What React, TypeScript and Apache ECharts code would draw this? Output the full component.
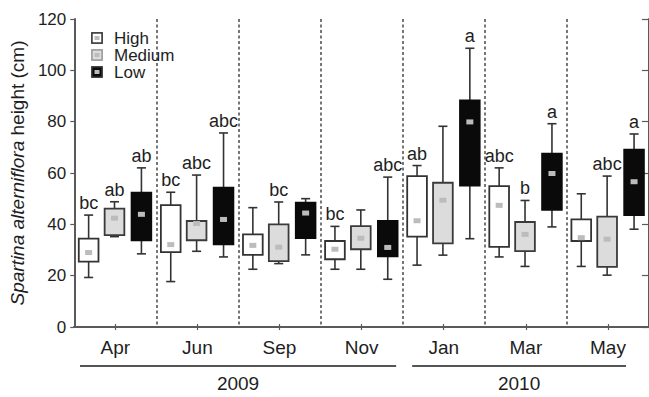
import React, { useEffect, useRef } from 'react';
import * as echarts from 'echarts';

const months = ['Apr', 'Jun', 'Sep', 'Nov', 'Jan', 'Mar', 'May'];
const yearLabels = ['2009', '2010'];
const yearFirstIdx = [0, 4];
const yearLastIdx = [3, 6];
const yTicks = { min: 0, max: 120, interval: 20 };

// [min, q1, median, q3, max]
const highStats = [
  [19.3, 25.5, 29.0, 34.4, 43.6],
  [17.7, 29.2, 32.1, 47.5, 52.5],
  [22.5, 28.1, 31.8, 36.1, 46.5],
  [22.5, 26.4, 30.3, 33.5, 39.2],
  [24.1, 35.2, 41.4, 58.8, 62.9],
  [27.3, 31.2, 47.4, 54.9, 62.0],
  [23.6, 33.5, 34.8, 41.9, 51.9],
];
const mediumStats = [
  [35.2, 35.8, 42.4, 46.1, 48.8],
  [29.5, 33.8, 40.3, 41.3, 59.2],
  [24.7, 25.7, 31.1, 40.0, 48.7],
  [22.5, 30.3, 34.6, 39.3, 45.6],
  [28.0, 32.6, 49.4, 56.2, 78.2],
  [23.6, 29.6, 36.1, 40.9, 49.3],
  [20.2, 23.4, 34.2, 43.0, 58.8],
];
const lowStats = [
  [28.5, 33.8, 43.9, 52.3, 62.0],
  [27.3, 32.2, 41.9, 54.3, 75.6],
  [28.1, 34.6, 44.4, 48.4, 50.0],
  [18.6, 27.5, 31.0, 41.3, 58.4],
  [34.4, 55.1, 79.9, 88.3, 108.6],
  [39.0, 45.6, 59.8, 67.5, 79.2],
  [38.1, 43.6, 56.6, 69.1, 75.2],
];

const highLetters = ['bc', 'bc', '', 'bc', 'ab', 'abc', ''];
const mediumLetters = ['ab', 'abc', 'bc', '', '', 'b', 'abc'];
const lowLetters = ['ab', 'abc', '', 'abc', 'a', 'a', 'a'];

const FONT = '"Liberation Sans", Arial, Helvetica, sans-serif';
const AXIS_COLOR = '#5a5a5a';
const TEXT_COLOR = '#1e1e1e';

function iconUrl(fill: string, stroke: string) {
  const svg =
    `<svg xmlns='http://www.w3.org/2000/svg' width='24' height='24' viewBox='0 0 12 12'>` +
    `<rect x='0.9' y='0.9' width='10.2' height='10.2' fill='${fill}' stroke='${stroke}' stroke-width='1.6'/>` +
    `<rect x='3.5' y='4' width='5' height='4' fill='#bcbcbc'/></svg>`;
  return 'image://data:image/svg+xml;charset=utf-8,' + encodeURIComponent(svg);
}

type Style = { name: string; fill: string; stroke: string; offset: number };

const seriesDefs: { style: Style; stats: number[][]; letters: string[] }[] = [
  { style: { name: 'High', fill: '#ffffff', stroke: '#333333', offset: -0.325 }, stats: highStats, letters: highLetters },
  { style: { name: 'Medium', fill: '#dcdcdc', stroke: '#3a3a3a', offset: -0.01 }, stats: mediumStats, letters: mediumLetters },
  { style: { name: 'Low', fill: '#0a0a0a', stroke: '#0a0a0a', offset: 0.318 }, stats: lowStats, letters: lowLetters },
];

function makeRender(style: Style, letters: string[]) {
  return (params: any, api: any) => {
    const idx = api.value(0);
    const band = api.size([1, 0])[0];
    const cx = api.coord([idx, 0])[0] + style.offset * band;
    const w = band * 0.24;
    const capW = band * 0.11;
    const yMin = api.coord([idx, api.value(1)])[1];
    const yQ1 = api.coord([idx, api.value(2)])[1];
    const yMed = api.coord([idx, api.value(3)])[1];
    const yQ3 = api.coord([idx, api.value(4)])[1];
    const yMax = api.coord([idx, api.value(5)])[1];
    const lineStyle = { stroke: '#333333', lineWidth: 1.6 };
    const children: any[] = [
      { type: 'line', shape: { x1: cx, y1: yMax, x2: cx, y2: yQ3 }, style: lineStyle },
      { type: 'line', shape: { x1: cx, y1: yQ1, x2: cx, y2: yMin }, style: lineStyle },
      { type: 'line', shape: { x1: cx - capW / 2, y1: yMax, x2: cx + capW / 2, y2: yMax }, style: lineStyle },
      { type: 'line', shape: { x1: cx - capW / 2, y1: yMin, x2: cx + capW / 2, y2: yMin }, style: lineStyle },
      {
        type: 'rect',
        shape: { x: cx - w / 2, y: yQ3, width: w, height: yQ1 - yQ3 },
        style: { fill: style.fill, stroke: style.stroke, lineWidth: 1.8 },
      },
      {
        type: 'rect',
        shape: { x: cx - 3.5, y: yMed - 2.5, width: 7, height: 5 },
        style: { fill: '#bcbcbc' },
      },
    ];
    const letter = letters[params.dataIndex];
    if (letter) {
      children.push({
        type: 'text',
        x: cx,
        y: yMax - 3,
        style: {
          text: letter,
          fill: TEXT_COLOR,
          font: `18px ${FONT}`,
          align: 'center',
          verticalAlign: 'bottom',
        },
      });
    }
    return { type: 'group', children };
  };
}

export default function App() {
  const ref = useRef<HTMLDivElement>(null);
  useEffect(() => {
    if (!ref.current) return;
    const chart = echarts.init(ref.current, undefined, { renderer: 'svg' });
    const option: any = {
      animation: false,
      backgroundColor: '#ffffff',
      textStyle: { fontFamily: FONT },
      grid: { left: 71.5, right: -5, top: 19, bottom: 70, containLabel: false },
      legend: {
        orient: 'vertical',
        left: 91,
        top: 29.5,
        padding: 0,
        itemGap: 0,
        itemWidth: 12,
        itemHeight: 12,
        selectedMode: false,
        textStyle: { fontSize: 17, color: TEXT_COLOR, fontFamily: FONT, lineHeight: 17, padding: [0, 0, 0, 6] },
        data: seriesDefs.map((d) => ({ name: d.style.name, icon: iconUrl(d.style.fill, d.style.name === 'Medium' ? '#9a9a9a' : '#333333') })),
      },
      xAxis: [
        {
          type: 'category',
          data: months,
          position: 'bottom',
          boundaryGap: true,
          axisLine: { show: true, lineStyle: { color: AXIS_COLOR, width: 2 } },
          axisTick: { show: true, alignWithLabel: true, inside: true, length: 3, lineStyle: { color: AXIS_COLOR, width: 1.2 } },
          axisLabel: { fontSize: 19, color: TEXT_COLOR, margin: 11, fontFamily: FONT },
          splitLine: { show: true, interval: 0, lineStyle: { type: [3, 2.5], color: '#4a4a4a', width: 1.5 } },
        },
        {
          type: 'category',
          data: months,
          position: 'top',
          boundaryGap: true,
          axisLine: { show: true, lineStyle: { color: AXIS_COLOR, width: 2 } },
          axisTick: { show: true, alignWithLabel: true, inside: true, length: 3, lineStyle: { color: AXIS_COLOR, width: 1.2 } },
          axisLabel: { show: false },
          splitLine: { show: false },
        },
      ],
      yAxis: [
        {
          type: 'value',
          position: 'left',
          min: yTicks.min,
          max: yTicks.max,
          interval: yTicks.interval,
          axisLine: { show: true, lineStyle: { color: AXIS_COLOR, width: 2 } },
          axisTick: { show: true, inside: false, length: 4, lineStyle: { color: AXIS_COLOR, width: 1.2 } },
          axisLabel: { fontSize: 17, color: TEXT_COLOR, margin: 8, fontFamily: FONT },
          splitLine: { show: false },
          name: '{i|Spartina alterniflora} height (cm)',
          nameLocation: 'middle',
          nameGap: 47,
          nameRotate: 90,
          nameTextStyle: {
            fontSize: 19,
            color: TEXT_COLOR,
            fontFamily: FONT,
            rich: { i: { fontStyle: 'italic', fontSize: 19, color: TEXT_COLOR, fontFamily: FONT } },
          },
        },
        {
          type: 'value',
          position: 'right',
          min: yTicks.min,
          max: yTicks.max,
          interval: yTicks.interval,
          axisLine: { show: true, lineStyle: { color: AXIS_COLOR, width: 2 } },
          axisTick: { show: true, inside: true, length: 7, lineStyle: { color: AXIS_COLOR, width: 1.2 } },
          axisLabel: { show: false },
          splitLine: { show: false },
        },
      ],
      series: seriesDefs.map((d) => ({
        type: 'custom',
        name: d.style.name,
        xAxisIndex: 0,
        yAxisIndex: 0,
        clip: false,
        itemStyle: { color: d.style.fill },
        encode: { x: 0, y: [1, 2, 3, 4, 5] },
        data: d.stats.map((s, i) => [i, ...s]),
        renderItem: makeRender(d.style, d.letters),
      })),
    };
    chart.setOption(option);

    const xOf = (i: number) => chart.convertToPixel({ xAxisIndex: 0 }, i) as number;
    const band = xOf(1) - xOf(0);
    const yBase = chart.convertToPixel({ yAxisIndex: 0 }, 0) as number;
    const startFrac = [0.43, 0.385];
    const endFrac = [0.42, 0.22];
    const graphic: any[] = [];
    yearLabels.forEach((label, k) => {
      const x1 = xOf(yearFirstIdx[k]) - startFrac[k] * band;
      const x2 = xOf(yearLastIdx[k]) + endFrac[k] * band;
      graphic.push({
        type: 'line',
        shape: { x1, y1: yBase + 39, x2, y2: yBase + 39 },
        style: { stroke: '#555555', lineWidth: 1.8 },
      });
      graphic.push({
        type: 'text',
        x: (x1 + x2) / 2,
        y: yBase + 56,
        style: { text: label, font: `19px ${FONT}`, fill: TEXT_COLOR, align: 'center', verticalAlign: 'middle' },
      });
    });
    chart.setOption({ graphic });

    return () => chart.dispose();
  }, []);
  return <div ref={ref} style={{ position: 'absolute', left: 0, top: 0, width: 649, height: 397 }} />;
}
